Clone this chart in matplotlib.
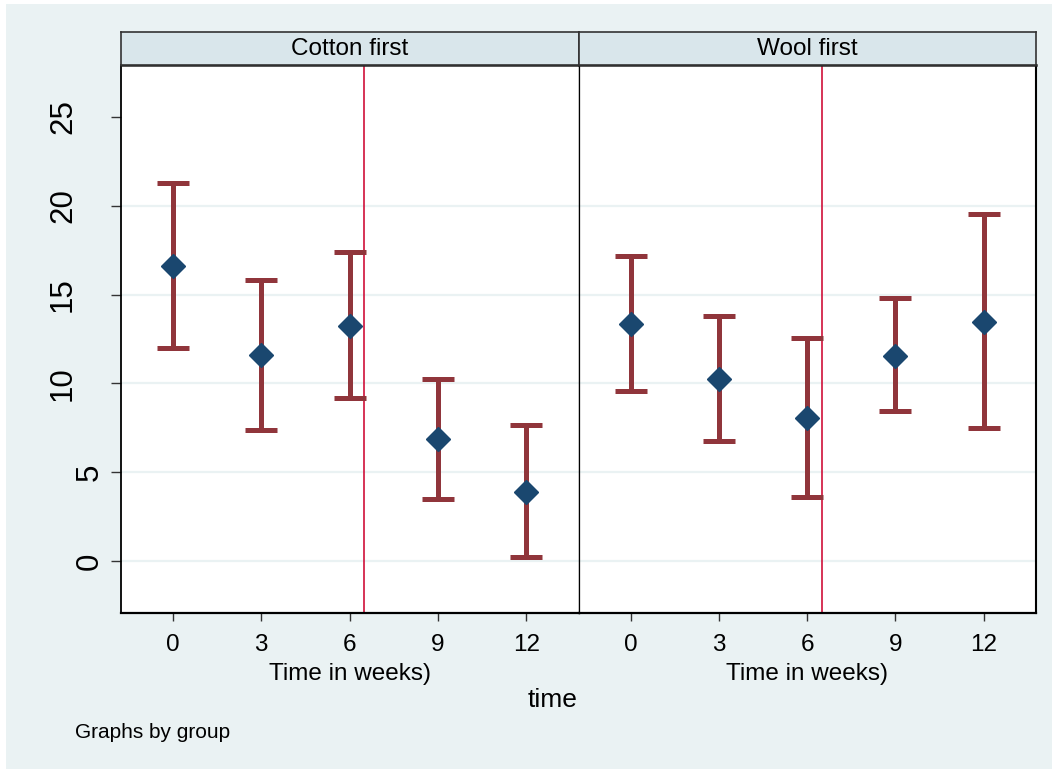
import matplotlib
matplotlib.use("Agg")
import numpy as np
import matplotlib.pyplot as plt
import matplotlib.transforms as mtransforms
from matplotlib.patches import Rectangle

plt.rcParams['font.family'] = ['Liberation Sans', 'DejaVu Sans']

# data (means and confidence limits)
weeks = [0, 3, 6, 9, 12]
groups = ['Cotton first', 'Wool first']

cotton_mean = [16.6, 11.6, 13.25, 6.87, 3.9]
cotton_lo = [11.97, 7.38, 9.2, 3.47, 0.23]
cotton_hi = [21.27, 15.82, 17.38, 10.27, 7.64]

wool_mean = [13.36, 10.27, 8.07, 11.56, 13.47]
wool_lo = [9.55, 6.74, 3.62, 8.45, 7.51]
wool_hi = [17.19, 13.78, 12.54, 14.79, 19.52]

switch_week = 6.5
yticks = [0, 5, 10, 15, 20, 25]

means = [cotton_mean, wool_mean]
los = [cotton_lo, wool_lo]
his = [cotton_hi, wool_hi]

bg = '#eaf2f3'
strip_col = '#d9e6eb'
bar_col = '#90353b'
dot_col = '#1a476f'
line_col = '#d0103a'

W, H = 1052, 769
fig = plt.figure(figsize=(W / 100, H / 100), dpi=100, facecolor='white')
fig.patches.append(Rectangle((6 / W, 0), 1, 1 - 4 / H, transform=fig.transFigure,
                             facecolor=bg, edgecolor='none', zorder=-10))

# panel geometry in pixels
lefts = [120.6, 578.6]
rights = [578.6, 1036.0]
top, bottom, strip_top = 65.0, 612.7, 32.0

for i in range(2):
    x0, x1 = lefts[i], rights[i]
    ax = fig.add_axes([x0 / W, 1 - bottom / H, (x1 - x0) / W, (bottom - top) / H])
    ax.set_facecolor('white')

    m = np.array(means[i])
    lo = np.array(los[i])
    hi = np.array(his[i])
    ax.errorbar(weeks, m, yerr=[m - lo, hi - m], fmt='none', ecolor=bar_col,
                elinewidth=3.6, capsize=11.3, capthick=3.6, zorder=3)
    ax.plot(weeks, m, linestyle='none', marker='D', markersize=11.8,
            color=dot_col, markeredgecolor=dot_col, zorder=4)
    ax.axvline(switch_week, color=line_col, lw=1.2, zorder=2)

    ax.set_xlim(-1.78, 13.78)
    ax.set_ylim(-2.91, 27.93)
    ax.set_xticks(weeks)
    ax.set_xticklabels([str(w) for w in weeks], fontsize=17.5)
    ax.set_yticks(yticks)
    ax.tick_params(axis='x', length=6, width=1, color='#333333', pad=9)
    ax.set_xlabel('Time in weeks)', fontsize=17.5, labelpad=5.5)

    ax.grid(axis='y', color=bg, lw=1.6, zorder=0)
    ax.grid(axis='x', visible=False)
    ax.get_ygridlines()[-1].set_visible(False)
    ax.set_axisbelow(True)

    if i == 0:
        ax.tick_params(axis='y', length=7, width=1, color='#333333', labelleft=False)
        # Stata-style rotated labels: right end shifts left with label length
        trans = mtransforms.blended_transform_factory(fig.transFigure, ax.transData)
        for v in yticks:
            lab = str(v)
            xr = 105 - 27 * (len(lab) - 1)
            ax.text(xr / W, v, lab, transform=trans, rotation=90, ha='right',
                    va='center', fontsize=22.5, clip_on=False)
        ax.spines['left'].set_linewidth(1.3)
        ax.spines['right'].set_linewidth(0.9)
    else:
        ax.tick_params(axis='y', left=False, labelleft=False)
        ax.spines['left'].set_linewidth(0.9)
        ax.spines['right'].set_linewidth(1.5)
    ax.spines['bottom'].set_linewidth(1.6)
    ax.spines['top'].set_linewidth(1.8)
    ax.spines['top'].set_color('#222222')

    # strip with the group name
    sax = fig.add_axes([x0 / W, 1 - top / H, (x1 - x0) / W, (top - strip_top) / H])
    sax.set_facecolor(strip_col)
    sax.set_xticks([])
    sax.set_yticks([])
    for s in sax.spines.values():
        s.set_color('#333333')
        s.set_linewidth(1.2)
    sax.text(0.5, 0.48, groups[i], ha='center', va='center', fontsize=17.5,
             transform=sax.transAxes)

fig.text(553 / W, 1 - 700 / H, 'time', ha='center', va='center', fontsize=19)
fig.text(75 / W, 1 - 732 / H, 'Graphs by group', ha='left', va='center', fontsize=15)

fig.savefig('out.png', dpi=100, facecolor='white')
